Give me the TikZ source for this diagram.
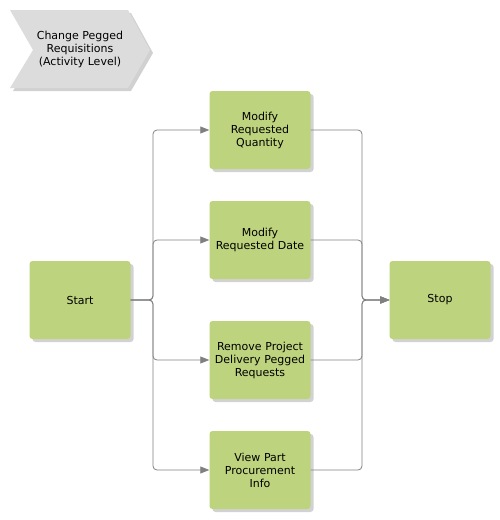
\documentclass[tikz,border=0pt]{standalone}
\usepackage{fontspec}
\setmainfont{DejaVu Sans}
\usetikzlibrary{shadows,arrows.meta}
\definecolor{boxgreen}{RGB}{189,211,126}
\definecolor{chevgray}{RGB}{220,220,220}
\definecolor{linegray}{RGB}{128,128,128}
\tikzset{
  actbox/.style={rectangle, rounded corners=3pt, fill=boxgreen, minimum width=100pt, minimum height=78pt,
    inner sep=1pt, align=center, text width=99pt, font=\fontsize{11}{13}\selectfont,
    drop shadow={shadow xshift=3pt, shadow yshift=-3pt, fill=black!25, opacity=0.7}},
  conn/.style={draw=linegray, line width=0.8pt, rounded corners=4pt},
  arr/.style={conn, -{Triangle[length=9pt,width=7pt]}},
  labeltxt/.style={align=center, font=\fontsize{11}{13}\selectfont}
}
\begin{document}
\begin{tikzpicture}[x=1pt,y=-1pt]
\useasboundingbox (0,0) rectangle (500,520);
% chevron
\fill[black!18] (13,13) -- (131,13) -- (153,53) -- (131,91) -- (13,91) -- (36,53) -- cycle;
\fill[chevgray] (10,10) -- (128,10) -- (150,50) -- (128,88) -- (10,88) -- (33,50) -- cycle;
\node[labeltxt] (title) at (80,49) {Change Pegged\\Requisitions\\(Activity Level)};
% boxes
\node[actbox] (start) at (80,300) {Start};
\node[actbox] (stop) at (440,300) {Stop};
\node[actbox] (b1) at (260,130) {Modify\\Requested\\Quantity};
\node[actbox] (b2) at (260,240) {Modify\\Requested Date};
\node[actbox] (b3) at (260,360) {Remove Project\\Delivery Pegged\\Requests};
\node[actbox] (b4) at (260,470) {View Part\\Procurement\\Info};
\coordinate (lx) at (153,300);
\coordinate (rx) at (362,300);
\foreach \b in {b1,b2,b3,b4}{
  \draw[arr] (start.east) -- (lx) |- (\b.west);
  \draw[arr] (\b.east) -| (rx) -- (stop.west);
}
\end{tikzpicture}
\end{document}
